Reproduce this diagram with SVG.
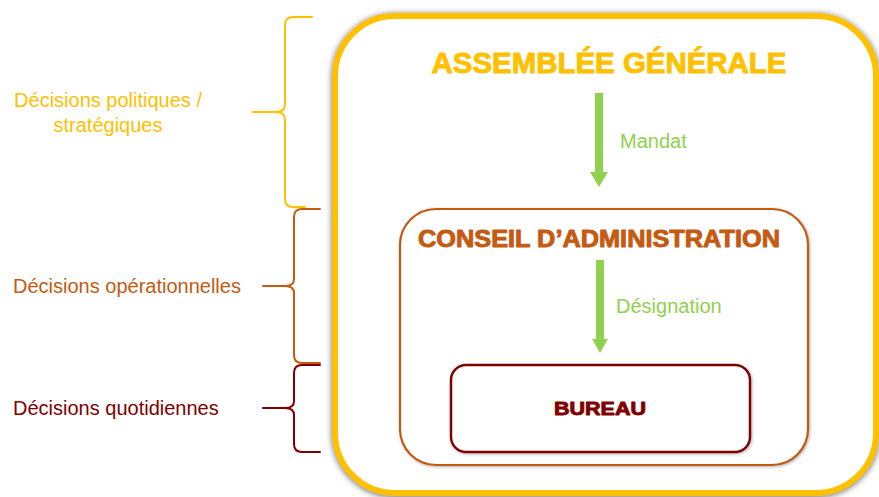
<svg xmlns="http://www.w3.org/2000/svg" width="879" height="497" viewBox="0 0 879 497">
<defs>
<style>
.lbl{font-family:"Liberation Sans",Arial,sans-serif;font-size:20px}
.ttl{font-family:"Liberation Sans",Arial,sans-serif;font-weight:bold;text-anchor:middle;stroke-width:0.9;stroke-linejoin:round}
.brace{fill:none;stroke-width:2;stroke-linecap:round;stroke-linejoin:round}
.arrow{fill:#92D050}
</style>
<filter id="sh" x="-10%" y="-10%" width="120%" height="120%">
<feDropShadow dx="0" dy="1" stdDeviation="3" flood-color="#666666" flood-opacity="1"/>
</filter>
<filter id="sh2" x="-10%" y="-10%" width="120%" height="120%">
<feDropShadow dx="1" dy="1" stdDeviation="1.5" flood-color="#7f7f7f" flood-opacity="0.6"/>
</filter>
</defs>
<rect width="879" height="497" fill="#ffffff"/>

<g id="assemblee">
<rect x="335" y="16" width="541" height="477" rx="60" fill="#ffffff" stroke="#FFC000" stroke-width="6" filter="url(#sh)"/>
<text class="ttl" x="609" y="73" font-size="29" fill="#FFC000" stroke="#FFC000" textLength="355" lengthAdjust="spacingAndGlyphs">ASSEMBLÉE GÉNÉRALE</text>
</g>

<g id="conseil">
<rect x="400" y="209" width="408" height="256" rx="36" fill="#ffffff" stroke="#C55A11" stroke-width="2.2" filter="url(#sh2)"/>
<text class="ttl" x="599" y="247" font-size="23" fill="#C55A11" stroke="#C55A11" textLength="362" lengthAdjust="spacingAndGlyphs">CONSEIL D’ADMINISTRATION</text>
</g>

<g id="bureau">
<rect x="451" y="365" width="299" height="87" rx="15" fill="#ffffff" stroke="#800000" stroke-width="2.5" filter="url(#sh2)"/>
<text class="ttl" x="600" y="415" font-size="18.5" fill="#800000" stroke="#800000" stroke-width="0.7" textLength="92" lengthAdjust="spacingAndGlyphs">BUREAU</text>
</g>

<g id="connectors">
<g id="arrow-mandat">
<polygon class="arrow" points="595,93 603,93 603,172 608,172 599,187 590,172 595,172"/>
<text class="lbl" x="620" y="148" fill="#92D050">Mandat</text>
</g>
<g id="arrow-designation">
<polygon class="arrow" points="596,260 604,260 604,339 608,339 600,353 592,339 596,339"/>
<text class="lbl" x="616" y="313" fill="#92D050">Désignation</text>
</g>
</g>

<g id="brace-politiques">
<path class="brace" stroke="#FFC000" d="M312,17 L293,17 Q285,17 285,25 L285,104 Q285,112 276,112 L253,112 M276,112 Q285,112 285,120 L285,199 Q285,207 293,207 L305,207"/>
<text class="lbl" x="108" y="107" fill="#FFC000" text-anchor="middle">Décisions politiques /</text>
<text class="lbl" x="108" y="132" fill="#FFC000" text-anchor="middle">stratégiques</text>
</g>
<g id="brace-operationnelles">
<path class="brace" stroke="#C55A11" d="M320,209 L302,209 Q294,209 294,217 L294,279 Q294,286 285,286 L263,286 M285,286 Q294,286 294,293 L294,355 Q294,363 302,363 L320,363"/>
<text class="lbl" x="13" y="293" fill="#C55A11">Décisions opérationnelles</text>
</g>
<g id="brace-quotidiennes">
<path class="brace" stroke="#800000" d="M320,365 L302,365 Q294,365 294,373 L294,401 Q294,408 285,408 L263,408 M285,408 Q294,408 294,415 L294,444 Q294,452 302,452 L320,452"/>
<text class="lbl" x="13" y="415" fill="#800000">Décisions quotidiennes</text>
</g>
</svg>
